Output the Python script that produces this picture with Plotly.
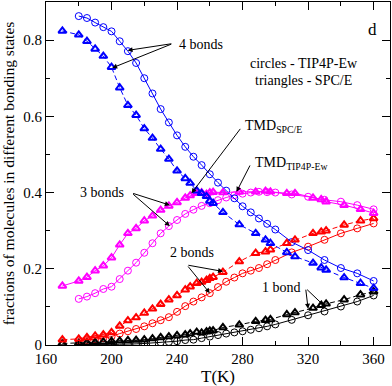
import plotly.graph_objects as go

# ---------------- data ----------------
T_tip4p = [180, 185, 190, 195, 200, 205, 210, 215, 220, 225, 230, 235, 240, 245, 250,
           255, 260, 265, 270, 275, 280, 285, 290, 295, 300, 310, 320, 330, 340, 350, 360]
tip4p_4 = [0.863, 0.858, 0.846, 0.834, 0.823, 0.797, 0.771, 0.740, 0.700, 0.660, 0.619, 0.584,
           0.550, 0.520, 0.494, 0.472, 0.448, 0.426, 0.405, 0.385, 0.364, 0.348, 0.332, 0.318,
           0.303, 0.270, 0.249, 0.223, 0.202, 0.188, 0.168]
tip4p_3 = [0.121, 0.127, 0.136, 0.147, 0.153, 0.173, 0.195, 0.216, 0.242, 0.267, 0.293, 0.312,
           0.328, 0.344, 0.355, 0.365, 0.372, 0.380, 0.387, 0.393, 0.397, 0.400, 0.402, 0.401,
           0.400, 0.395, 0.389, 0.381, 0.376, 0.367, 0.356]
tip4p_2 = [0.012, 0.013, 0.015, 0.018, 0.022, 0.030, 0.036, 0.042, 0.049, 0.057, 0.065, 0.073,
           0.087, 0.102, 0.114, 0.125, 0.136, 0.152, 0.166, 0.177, 0.188, 0.195, 0.202, 0.212,
           0.223, 0.243, 0.258, 0.276, 0.293, 0.306, 0.319]
tip4p_1 = [0.000, 0.000, 0.001, 0.001, 0.001, 0.002, 0.002, 0.003, 0.004, 0.005, 0.007, 0.008,
           0.010, 0.013, 0.014, 0.018, 0.022, 0.026, 0.030, 0.033, 0.036, 0.040, 0.044, 0.049,
           0.054, 0.066, 0.078, 0.088, 0.101, 0.114, 0.130]

T_spce = [170, 180, 185, 190, 195, 200, 205, 210, 215, 220, 225, 230, 235, 240, 245, 248, 252,
          255, 258, 260, 262, 268, 278, 288, 294, 297, 307, 312, 323, 328, 331, 342, 352, 360]
spce_4 = [0.824, 0.814, 0.797, 0.777, 0.758, 0.729, 0.675, 0.629, 0.603, 0.568, 0.543, 0.514,
          0.488, 0.457, 0.437, 0.425, 0.405, 0.398, 0.390, 0.378, 0.372, 0.348, 0.316, 0.293,
          0.276, 0.267, 0.243, 0.232, 0.215, 0.203, 0.197, 0.177, 0.162, 0.149]
spce_3 = [0.155, 0.168, 0.178, 0.195, 0.208, 0.229, 0.263, 0.293, 0.306, 0.326, 0.339, 0.354,
          0.365, 0.374, 0.386, 0.392, 0.398, 0.400, 0.396, 0.400, 0.401, 0.400, 0.402, 0.402,
          0.404, 0.402, 0.398, 0.398, 0.386, 0.382, 0.376, 0.367, 0.356, 0.346]
spce_2 = [0.014, 0.016, 0.020, 0.024, 0.027, 0.033, 0.050, 0.064, 0.072, 0.084, 0.095, 0.107,
          0.119, 0.130, 0.145, 0.153, 0.162, 0.165, 0.170, 0.175, 0.178, 0.191, 0.219, 0.241,
          0.245, 0.250, 0.267, 0.276, 0.293, 0.297, 0.300, 0.315, 0.326, 0.332]
spce_1 = [0.004, 0.005, 0.006, 0.007, 0.008, 0.010, 0.011, 0.012, 0.013, 0.014, 0.017, 0.020,
          0.022, 0.025, 0.027, 0.030, 0.034, 0.032, 0.035, 0.037, 0.038, 0.046, 0.053, 0.062,
          0.065, 0.067, 0.080, 0.085, 0.097, 0.104, 0.108, 0.119, 0.132, 0.140]

x_ticks = [160, 200, 240, 280, 320, 360]
y_ticks = [0, 0.2, 0.4, 0.6, 0.8]
y_tick_labels = ["0", "0.2", "0.4", "0.6", "0.8"]

FONT = "Liberation Serif, Times New Roman, serif"

fig = go.Figure()

series = [
    (T_tip4p, tip4p_1, "black", "solid", "circle-open"),
    (T_tip4p, tip4p_2, "#ff0000", "solid", "circle-open"),
    (T_tip4p, tip4p_3, "#ff00ff", "solid", "circle-open"),
    (T_tip4p, tip4p_4, "#0000ff", "solid", "circle-open"),
    (T_spce, spce_1, "black", "5px,3px", "triangle-up-open"),
    (T_spce, spce_2, "#ff0000", "5px,3px", "triangle-up-open"),
    (T_spce, spce_3, "#ff00ff", "solid", "triangle-up-open"),
    (T_spce, spce_4, "#0000ff", "5px,3px", "triangle-up-open"),
]
for xs, ys, col, dash, sym in series:
    is_tri = sym.startswith("triangle")
    fig.add_trace(go.Scatter(
        x=xs, y=ys, mode="lines+markers",
        line=dict(color=col, width=1, dash=dash),
        marker=dict(symbol=sym, size=7, color=col,
                    line=dict(color=col, width=2 if is_tri else 1)),
        showlegend=False, hoverinfo="skip"))

annos = []
def label(x, y, text, xanchor="center", size=14):
    annos.append(dict(x=x, y=y, xref="x", yref="y", text=text, showarrow=False,
                      xanchor=xanchor, yanchor="middle",
                      font=dict(family=FONT, size=size, color="black")))

def arrow(x_head, y_head, x_tail, y_tail):
    annos.append(dict(x=x_head, y=y_head, ax=x_tail, ay=y_tail, xref="x", yref="y",
                      axref="x", ayref="y", text="", showarrow=True, arrowhead=2,
                      arrowsize=1, arrowwidth=1, arrowcolor="black", standoff=0,
                      startstandoff=0))

label(359.4, 0.828, "d", size=17)
label(317.3, 0.739, "circles - TIP4P-Ew")
label(317.3, 0.694, "triangles - SPC/E")

label(254.5, 0.789, "4 bonds")
arrow(209.8, 0.773, 237.4, 0.791)
arrow(200.4, 0.727, 237.4, 0.791)

label(280.0, 0.574, "TMD<sub>SPC/E</sub>", xanchor="left")
arrow(248.8, 0.398, 279.3, 0.571)

label(286.2, 0.477, "TMD<sub>TIP4P-Ew</sub>", xanchor="left")
arrow(276.3, 0.402, 285.0, 0.475)

label(194.1, 0.401, "3 bonds")
arrow(235.6, 0.367, 212.3, 0.399)
arrow(235.6, 0.312, 212.3, 0.399)

label(249.0, 0.242, "2 bonds")
arrow(268.1, 0.193, 246.0, 0.210)
arrow(260.0, 0.136, 246.0, 0.210)

label(303.9, 0.150, "1 bond")
arrow(320.0, 0.095, 318.5, 0.149)
arrow(329.5, 0.104, 318.5, 0.149)

axis_common = dict(showline=True, linecolor="black", linewidth=1, mirror="ticks",
                   ticks="inside", ticklen=8, tickwidth=1, tickcolor="black",
                   showgrid=False, zeroline=False,
                   tickfont=dict(family=FONT, size=15, color="black"))

fig.update_layout(
    width=392, height=386,
    margin=dict(l=46, r=2, t=2, b=41),
    paper_bgcolor="white", plot_bgcolor="white",
    annotations=annos,
    xaxis=dict(range=[160, 370], tickvals=x_ticks,
               minor=dict(dtick=20, tick0=160, ticks="inside", ticklen=4, tickcolor="black"),
               title=dict(text="T(K)", font=dict(family=FONT, size=17, color="black"), standoff=2),
               **axis_common),
    yaxis=dict(range=[0, 0.9], tickvals=y_ticks, ticktext=y_tick_labels,
               minor=dict(dtick=0.1, tick0=0, ticks="inside", ticklen=4, tickcolor="black"),
               title=dict(text="fractions of molecules in different bonding states",
                          font=dict(family=FONT, size=15.5, color="black"), standoff=4),
               **axis_common),
)

fig.write_html("out.html", config={"displayModeBar": False},
               post_script="document.body.style.margin='0';")
